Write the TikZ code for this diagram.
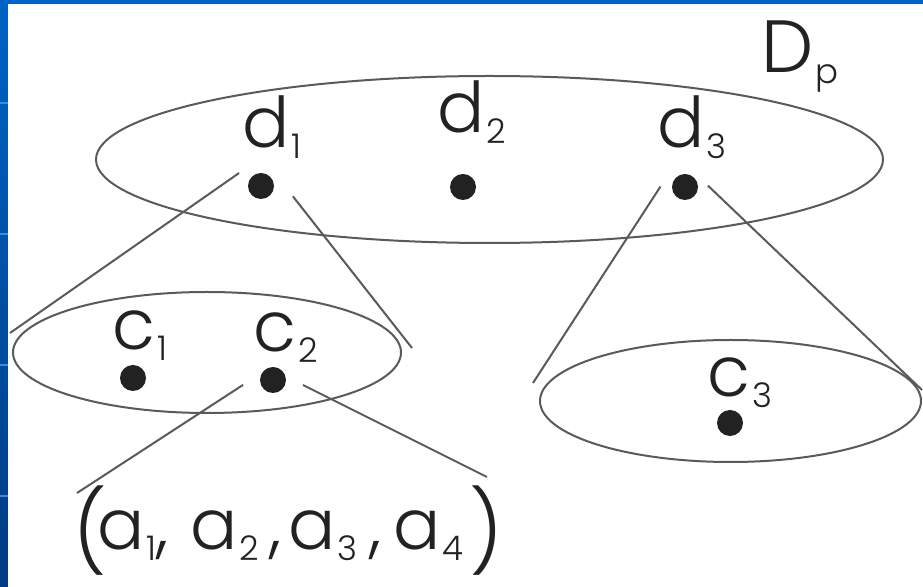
\documentclass[tikz,border=0pt]{standalone}
\usepackage{fontspec}
\setmainfont{Poppins}[UprightFont=* Light]
\usetikzlibrary{shapes.geometric}
\definecolor{slideblue}{HTML}{0062C4}
\definecolor{slidedark}{HTML}{003C82}
\definecolor{slideline}{HTML}{3A8AE0}
\definecolor{ink}{HTML}{222222}
\definecolor{wire}{HTML}{5A5A5A}
\newcommand{\lsub}[1]{\hspace{1pt}\raisebox{-5.5pt}{\fontsize{17}{17}\selectfont #1}}
\newcommand{\bigparen}[1]{\raisebox{-5.5pt}{\fontsize{40}{40}\selectfont #1}}

\begin{document}
\begin{tikzpicture}[x=0.5pt,y=-0.5pt,
  rim/.style={draw=wire,line width=1pt,ellipse,inner sep=0pt},
  dot/.style={circle,fill=ink,inner sep=0pt,minimum size=13pt},
  cone/.style={draw=wire,line width=1pt},
  lbl/.style={anchor=base west,inner sep=0pt,text=ink,font=\fontsize{35}{35}\selectfont}]
\useasboundingbox (0,0) rectangle (923,587);
% slide background
\shade[top color=slideblue,bottom color=slidedark] (0,0) rectangle (923,587);
\foreach \y in {103,234,365,496} \draw[slideline,line width=0.6pt] (0,\y) -- (8,\y);
\fill[white] (8,4) rectangle (923,587);
% the three sets
\node[rim,minimum width=393.5pt,minimum height=83.5pt] (Dp) at (489.5,159.5) {};
\node[rim,minimum width=194pt,minimum height=60.5pt] (C12) at (207,352.5) {};
\node[rim,minimum width=190.5pt,minimum height=61pt] (C3) at (730.5,401) {};
% points
\node[dot] (d1) at (261,186) {};
\node[dot] (d2) at (463,187) {};
\node[dot] (d3) at (685,187) {};
\node[dot] (c1) at (133,378) {};
\node[dot] (c2) at (273,380) {};
\node[dot] (c3) at (730,423) {};
% labels
\node[lbl,font=\fontsize{37}{37}\selectfont] (dpl) at (761,73) {D\lsub{p}};
\node[lbl] (d1l) at (242,148) {d\lsub{1}};
\node[lbl] (d2l) at (437,133) {d\lsub{2}};
\node[lbl] (d3l) at (657,148) {d\lsub{3}};
\node[lbl] (c1l) at (112,350) {c\lsub{1}};
\node[lbl] (c2l) at (253,352) {c\lsub{2}};
\node[lbl] (c3l) at (707,397) {c\lsub{3}};
\node[lbl] (tuple) at (77,550) {\makebox[10pt][l]{\hspace{-2pt}\bigparen{(}}\makebox[46.5pt][l]{a\lsub{1},}\makebox[49pt][l]{a\lsub{2}\hspace{5pt},}\makebox[52.5pt][l]{a\lsub{3}\hspace{6pt},}\makebox[38pt][l]{a\lsub{4}}\bigparen{)}};
% cones
\coordinate (t1) at (262,157);
\coordinate (l1) at (10,333);
\coordinate (r1) at (412,348);
\draw[cone,shorten <=14pt] (t1) -- (l1);
\draw[cone,shorten <=25pt] (t1) -- (r1);
\coordinate (t3) at (679,158);
\coordinate (l3) at (533,383);
\coordinate (r3) at (922,390);
\draw[cone,shorten <=17pt] (t3) -- (l3);
\draw[cone,shorten <=20pt] (t3) -- (r3);
\coordinate (t2) at (269,368);
\coordinate (l2) at (77,493);
\coordinate (r2) at (487,477);
\draw[cone,shorten <=15.5pt] (t2) -- (l2);
\draw[cone,shorten <=19pt] (t2) -- (r2);
\end{tikzpicture}
\end{document}
